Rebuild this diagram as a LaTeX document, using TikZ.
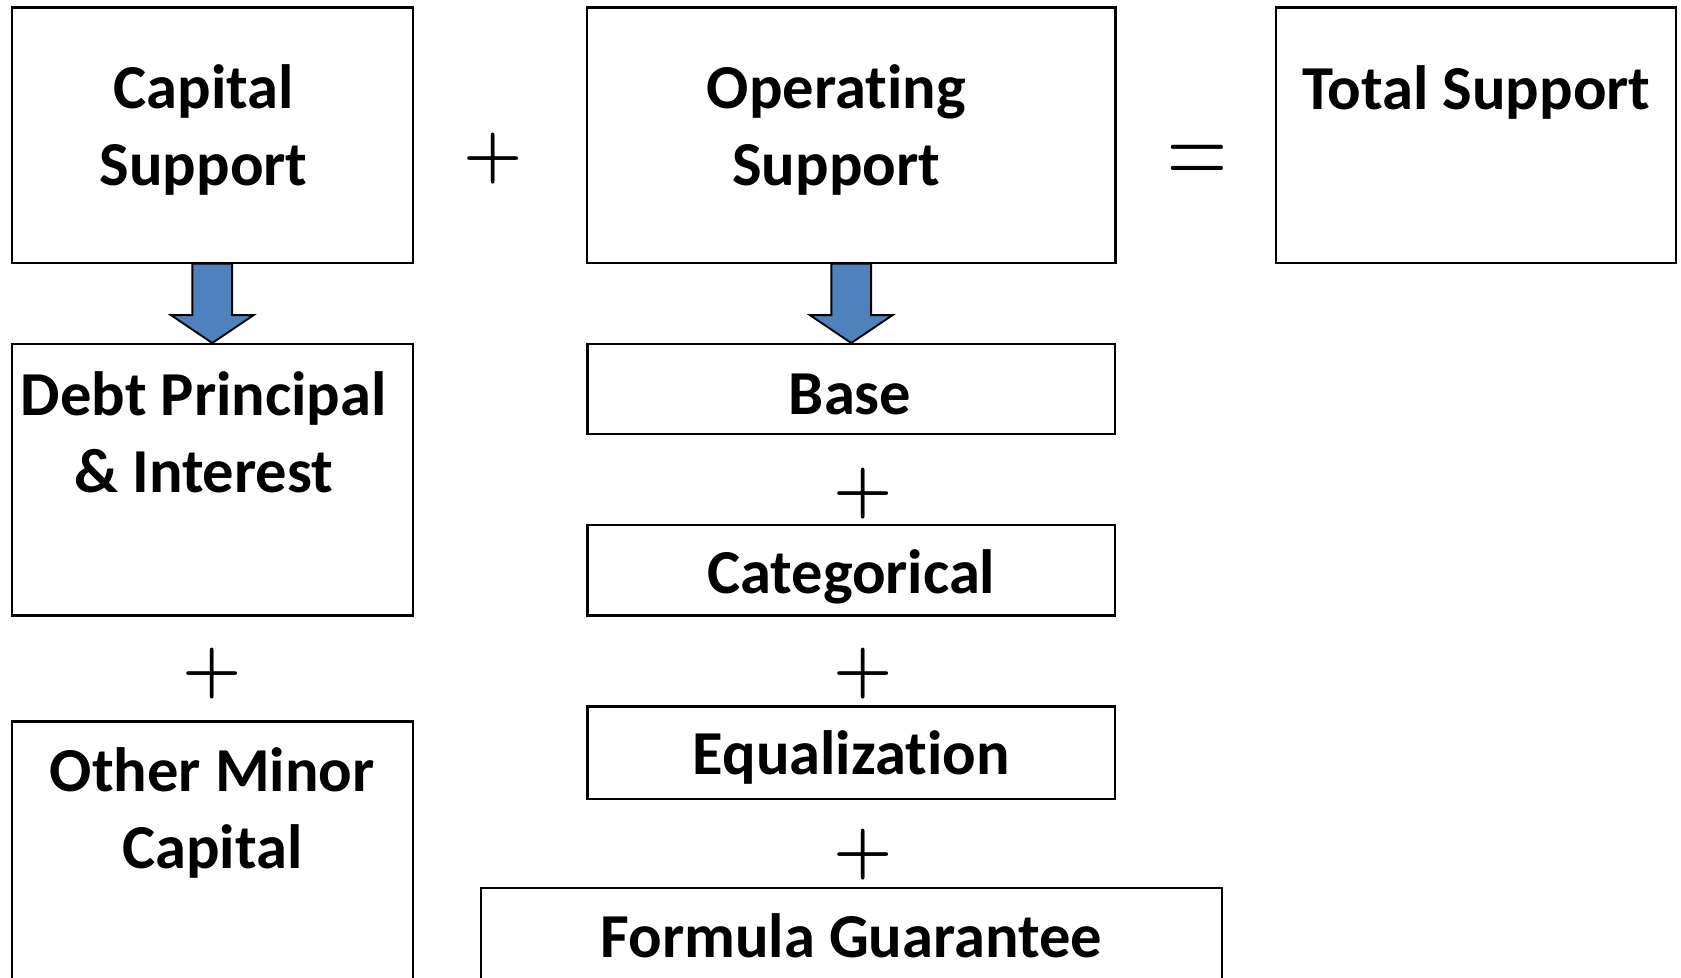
\documentclass[tikz,border=0pt]{standalone}
\usepackage{fontspec}
\usetikzlibrary{calc}
\newfontfamily\calfont[Ligatures=NoCommon]{Carlito}
\definecolor{arrowblue}{HTML}{4F81BD}
\tikzset{
  supportbox/.style={draw,line width=0.6pt,inner sep=0pt},
  boxtext/.style={align=center,inner sep=0pt,font=\calfont\bfseries\fontsize{16.6}{20.5}\selectfont},
  opsign/.style={inner sep=0pt,font=\bfseries\fontsize{18}{18}\selectfont},
  eqsign/.style={inner sep=0pt,font=\fontsize{21}{21}\selectfont},
  blockarrow/.style={draw,fill=arrowblue,line width=0.5pt,line join=miter}
}
\newcommand{\downblock}[2]{% from node, to node
\draw[blockarrow] ($(#1.south)+(-0.185,0)$) -- ($(#2.north)+(-0.185,0.26)$)
  -- ($(#2.north)+(-0.385,0.26)$) -- (#2.north) -- ($(#2.north)+(0.385,0.26)$)
  -- ($(#2.north)+(0.185,0.26)$) -- ($(#1.south)+(0.185,0)$) -- cycle;
}
\begin{document}
\begin{tikzpicture}
	\useasboundingbox (0,0) rectangle (15.68,-9.115);
	% top row
	\node[supportbox,minimum width=3.74cm,minimum height=2.38cm] (capital) at (1.98,-1.26) {};
	\node[supportbox,minimum width=4.93cm,minimum height=2.38cm] (operating) at (7.94,-1.26) {};
	\node[supportbox,minimum width=3.73cm,minimum height=2.38cm] (total) at (13.765,-1.26) {};
	\node[boxtext] (capitaltext) at (1.90,-1.21) {Capital\\Support};
	\node[boxtext] (operatingtext) at (7.80,-1.21) {Operating\\Support};
	\node[boxtext] (totaltext) at (13.77,-0.86) {Total Support};
	\node[opsign] (plustop) at (4.60,-1.48) {+};
	\node[eqsign] (equals) at (11.17,-1.55) {\scalebox{1.05}[1.5]{=}};

	% capital column
	\node[supportbox,minimum width=3.74cm,minimum height=2.53cm] (debt) at (1.98,-4.475) {};
	\node[boxtext] (debttext) at (1.90,-4.03) {Debt Principal\\\& Interest};
	\node[opsign] (pluscap) at (1.98,-6.28) {+};
	\node[supportbox,minimum width=3.74cm,minimum height=2.60cm] (minor) at (1.98,-8.03) {};
	\node[boxtext] (minortext) at (1.98,-7.58) {Other Minor\\Capital};

	% operating column
	\node[supportbox,minimum width=4.92cm,minimum height=0.84cm] (base) at (7.94,-3.63) {};
	\node[boxtext] (basetext) at (7.93,-3.68) {Base};
	\node[opsign] (plusa) at (8.05,-4.60) {+};
	\node[supportbox,minimum width=4.92cm,minimum height=0.84cm] (categorical) at (7.94,-5.32) {};
	\node[boxtext] (categoricaltext) at (7.94,-5.38) {Categorical};
	\node[opsign] (plusb) at (8.05,-6.28) {+};
	\node[supportbox,minimum width=4.92cm,minimum height=0.86cm] (equal) at (7.94,-7.02) {};
	\node[boxtext] (equaltext) at (7.94,-7.07) {Equalization};
	\node[opsign] (plusc) at (8.05,-7.97) {+};
	\node[supportbox,minimum width=6.91cm,minimum height=1.00cm] (formula) at (7.945,-8.78) {};
	\node[boxtext] (formulatext) at (7.94,-8.73) {Formula Guarantee};

	\downblock{capital}{debt}
	\downblock{operating}{base}
\end{tikzpicture}
\end{document}
